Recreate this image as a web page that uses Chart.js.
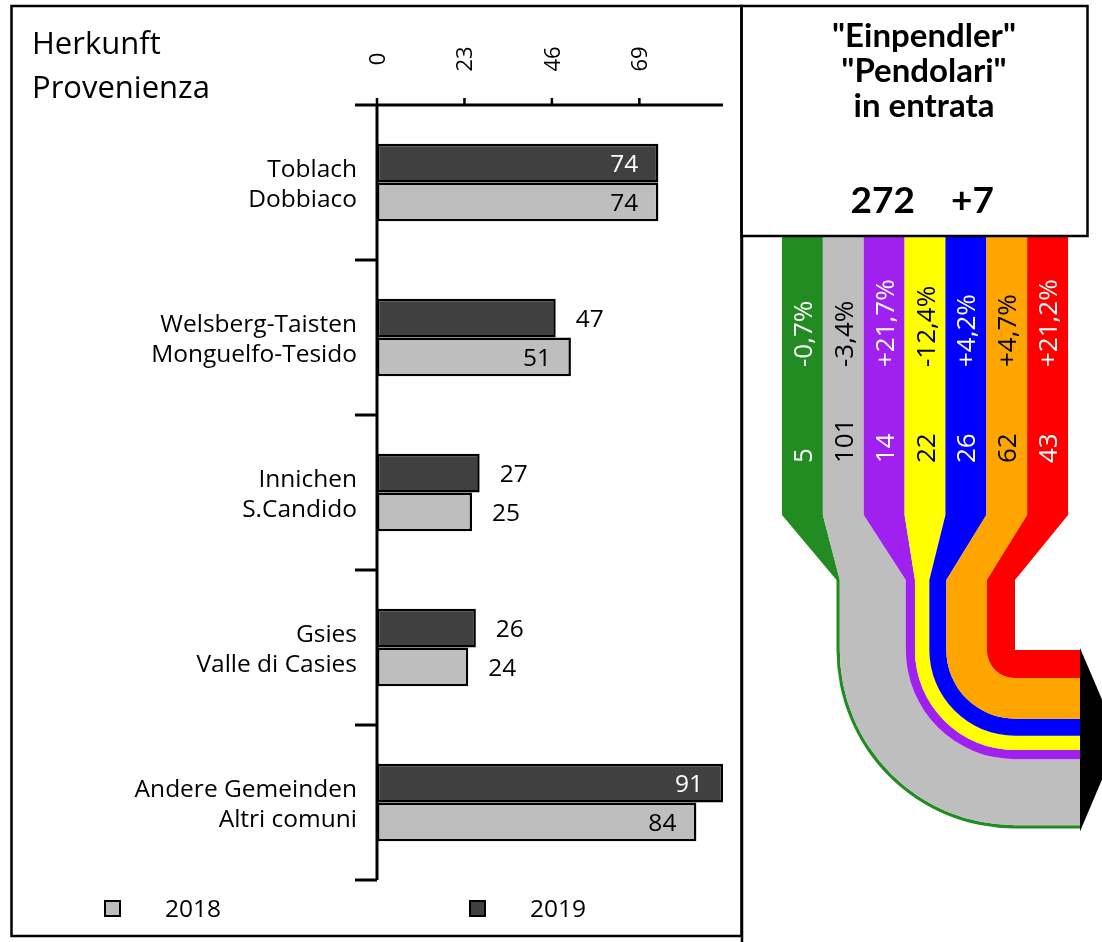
<!DOCTYPE html>
<html>
<head>
<meta charset="utf-8">
<script src="https://cdn.jsdelivr.net/npm/chart.js@4.4.1/dist/chart.umd.min.js"></script>
<style>
  html, body { margin: 0; padding: 0; background: #fff; }
  #wrap { position: relative; width: 1102px; height: 942px; }
</style>
</head>
<body>
<div id="wrap"><canvas id="chart" width="1102" height="942"></canvas></div>
<script>
// bar chart data
const categories = [
  ["Toblach", "Dobbiaco"],
  ["Welsberg-Taisten", "Monguelfo-Tesido"],
  ["Innichen", "S.Candido"],
  ["Gsies", "Valle di Casies"],
  ["Andere Gemeinden", "Altri comuni"],
];
const values2019 = [74, 47, 27, 26, 91];
const values2018 = [74, 51, 25, 24, 84];
const xTicks = [0, 23, 46, 69];
const xMax = 91;
const years = ["2018", "2019"];
const titleLeft = ["Herkunft", "Provenienza"];

// flow diagram data
const flowValues = [5, 101, 14, 22, 26, 62, 43];
const flowChanges = ["-0,7%", "-3,4%", "+21,7%", "-12,4%", "+4,2%", "+4,7%", "+21,2%"];
const flowColors = ["#228B22", "#BEBEBE", "#A020F0", "#FFFF00", "#0000FF", "#FFA500", "#FF0000"];
const flowTextColors = ["#fff", "#000", "#fff", "#000", "#fff", "#000", "#fff"];
const titleRight = ['"Einpendler"', '"Pendolari"', "in entrata"];
const totalValue = "272";
const totalChange = "+7";

const darkColor = "#404040";
const lightColor = "#BEBEBE";
const FONT = "'Open Sans', sans-serif";
const BOLD = "bold 33px 'Lato', sans-serif";

function fillText(ctx, str, x, y, font, color, align) {
  ctx.font = font;
  ctx.fillStyle = color;
  ctx.textAlign = align || "left";
  ctx.textBaseline = "alphabetic";
  ctx.fillText(str, x, y);
}

function rotatedText(ctx, str, x, y, font, color, align, capShift) {
  ctx.save();
  ctx.translate(x, y);
  ctx.rotate(-Math.PI / 2);
  fillText(ctx, str, 0, capShift, font, color, align);
  ctx.restore();
}

const backgroundPlugin = {
  id: "background",
  beforeDraw(chart) {
    const ctx = chart.ctx;
    ctx.save();
    ctx.fillStyle = "#fff";
    ctx.fillRect(0, 0, chart.width, chart.height);
    ctx.restore();
  },
};

const axesPlugin = {
  id: "axes",
  afterDatasetsDraw(chart) {
    const ctx = chart.ctx;
    const area = chart.chartArea;
    const xs = chart.scales.x;
    const ys = chart.scales.y;
    const tickLen = 22;

    ctx.save();
    ctx.strokeStyle = "#000";
    ctx.lineWidth = 3;
    ctx.lineCap = "butt";

    // top value axis
    ctx.beginPath();
    ctx.moveTo(area.left - tickLen, area.top);
    ctx.lineTo(area.right, area.top);
    ctx.stroke();
    ctx.lineWidth = 2.5;
    for (const v of xTicks) {
      const px = xs.getPixelForValue(v);
      ctx.beginPath();
      ctx.moveTo(px, area.top - 7);
      ctx.lineTo(px, area.top);
      ctx.stroke();
      rotatedText(ctx, String(v), px, 59, `22px ${FONT}`, "#000", "center", 8);
    }

    // category axis
    ctx.lineWidth = 3;
    ctx.beginPath();
    ctx.moveTo(area.left, area.top);
    ctx.lineTo(area.left, area.bottom);
    ctx.stroke();
    const n = categories.length;
    for (let i = 0; i < n; i++) {
      const yb = i < n - 1
        ? (ys.getPixelForValue(i) + ys.getPixelForValue(i + 1)) / 2
        : area.bottom;
      ctx.beginPath();
      ctx.moveTo(area.left - tickLen, yb);
      ctx.lineTo(area.left, yb);
      ctx.stroke();

      const yc = ys.getPixelForValue(i);
      fillText(ctx, categories[i][0], area.left - 20, yc - 6, `24.5px ${FONT}`, "#000", "right");
      fillText(ctx, categories[i][1], area.left - 20, yc + 24, `24.5px ${FONT}`, "#000", "right");
    }
    ctx.restore();

    // value labels
    chart.data.datasets.forEach((ds, d) => {
      const meta = chart.getDatasetMeta(d);
      meta.data.forEach((el, i) => {
        const v = ds.data[i];
        const inside = v >= 50;
        const color = inside && ds.backgroundColor === darkColor ? "#fff" : "#000";
        if (inside) {
          fillText(ctx, String(v), el.x - 20, el.y + 9, `24.5px ${FONT}`, color, "right");
        } else {
          fillText(ctx, String(v), el.x + 20, el.y + 9, `24.5px ${FONT}`, color, "left");
        }
      });
    });
  },
};

const legendPlugin = {
  id: "customLegend",
  afterDraw(chart) {
    const ctx = chart.ctx;
    const entries = [
      { label: years[0], color: lightColor, x: 105 },
      { label: years[1], color: darkColor, x: 470 },
    ];
    ctx.save();
    for (const e of entries) {
      ctx.fillStyle = e.color;
      ctx.fillRect(e.x, 901, 15, 15);
      ctx.strokeStyle = "#000";
      ctx.lineWidth = 2;
      ctx.strokeRect(e.x, 901, 15, 15);
      fillText(ctx, e.label, e.x + 60, 917, `24.5px ${FONT}`, "#000", "left");
    }
    titleLeft.forEach((t, i) => {
      fillText(ctx, t, 32, 54 + i * 44, `31px ${FONT}`, "#000", "left");
    });
    ctx.restore();
  },
};

const flowPlugin = {
  id: "flow",
  afterDraw(chart) {
    const ctx = chart.ctx;
    const laneLeft = 782;
    const laneW = 40.86;
    const top = 236;
    const taperTop = 515;
    const taperBottom = 580;
    const cx = 1015;
    const cy = 650;
    const arrowX = 1080;
    const total = flowValues.reduce((a, b) => a + b, 0);
    const k = 178.5 / total;

    ctx.save();
    const n = flowValues.length;
    for (let i = 0; i < n; i++) {
      let inner = 0;
      for (let j = i + 1; j < n; j++) inner += flowValues[j];
      const r1 = inner * k;
      const r2 = r1 + flowValues[i] * k;
      const l = laneLeft + i * laneW;
      const r = l + laneW;
      ctx.beginPath();
      ctx.moveTo(l, top);
      ctx.lineTo(r, top);
      ctx.lineTo(r, taperTop);
      ctx.lineTo(cx - r1, taperBottom);
      ctx.lineTo(cx - r1, cy);
      ctx.arc(cx, cy, r1, Math.PI, Math.PI / 2, true);
      ctx.lineTo(arrowX, cy + r1);
      ctx.lineTo(arrowX, cy + r2);
      ctx.lineTo(cx, cy + r2);
      ctx.arc(cx, cy, r2, Math.PI / 2, Math.PI, false);
      ctx.lineTo(cx - r2, taperBottom);
      ctx.lineTo(l, taperTop);
      ctx.closePath();
      ctx.fillStyle = flowColors[i];
      ctx.fill();

      const mid = l + laneW / 2;
      rotatedText(ctx, flowChanges[i], mid, 367, `26px ${FONT}`, flowTextColors[i], "left", 9.5);
      rotatedText(ctx, String(flowValues[i]), mid, 463, `26px ${FONT}`, flowTextColors[i], "left", 9.5);
    }

    // arrow head
    const bottom = cy + total * k;
    ctx.beginPath();
    ctx.moveTo(arrowX, cy - 2);
    ctx.lineTo(arrowX, bottom + 3);
    ctx.lineTo(arrowX + 39, (cy + bottom) / 2);
    ctx.closePath();
    ctx.fillStyle = "#000";
    ctx.fill();

    // frames
    ctx.strokeStyle = "#000";
    ctx.lineWidth = 2.5;
    ctx.strokeRect(11.5, 6, 730, 930);
    ctx.strokeRect(741.5, 6, 346, 230);
    ctx.beginPath();
    ctx.moveTo(742, 236);
    ctx.lineTo(742, 942);
    ctx.stroke();

    // right title
    titleRight.forEach((t, i) => {
      fillText(ctx, t, 924, 47 + i * 35, BOLD, "#000", "center");
    });
    fillText(ctx, totalValue, 915, 213, "bold 37px 'Lato', sans-serif", "#000", "right");
    fillText(ctx, totalChange, 951, 213, "bold 37px 'Lato', sans-serif", "#000", "left");
    ctx.restore();
  },
};

new Chart(document.getElementById("chart"), {
  type: "bar",
  data: {
    labels: categories,
    datasets: [
      {
        label: years[1],
        data: values2019,
        backgroundColor: darkColor,
        borderColor: "#000",
        borderWidth: 2.5,
        borderSkipped: false,
      },
      {
        label: years[0],
        data: values2018,
        backgroundColor: lightColor,
        borderColor: "#000",
        borderWidth: 2.5,
        borderSkipped: false,
      },
    ],
  },
  options: {
    indexAxis: "y",
    responsive: false,
    animation: false,
    categoryPercentage: 0.5,
    barPercentage: 1.0,
    layout: { padding: { left: 377, right: 379, top: 105, bottom: 62 } },
    scales: {
      x: { display: false, min: 0, max: xMax },
      y: { display: false },
    },
    plugins: {
      legend: { display: false },
      tooltip: { enabled: false },
    },
  },
  plugins: [backgroundPlugin, axesPlugin, legendPlugin, flowPlugin],
});
</script>
</body>
</html>
